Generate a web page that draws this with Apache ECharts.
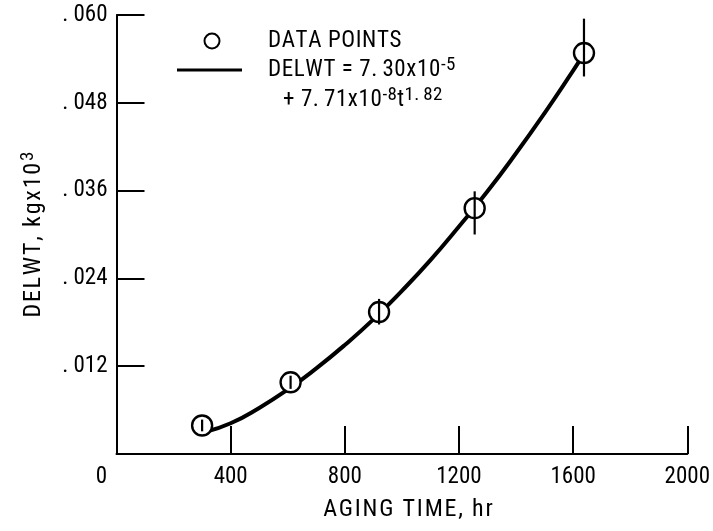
<!DOCTYPE html>
<html>
<head>
<meta charset="utf-8">
<script src="https://cdn.jsdelivr.net/npm/echarts@6/dist/echarts.min.js"></script>
<style>
  html, body { margin: 0; padding: 0; background: #fff; }
  #chart { width: 713px; height: 531px; }
</style>
</head>
<body>
<div id="chart"></div>
<script>
// Aging time (hr) of each measurement and the mean weight change
const agingTime = [300, 610, 920, 1255, 1638];
const delwt = [0.0039, 0.0098, 0.0194, 0.0336, 0.0548];
// Scatter band of each measurement (low, high)
const delwtLow = [0.0031, 0.0089, 0.0177, 0.0300, 0.0516];
const delwtHigh = [0.0047, 0.0107, 0.0212, 0.0359, 0.0595];

// Fitted curve DELWT = 7.30x10^-5 + 7.71x10^-8 t^1.82, read along its length
const fitTime = [310, 400, 500, 600, 700, 800, 900, 1000, 1100, 1200, 1300, 1400, 1500, 1600, 1630];
const fitDelwt = [0.0030, 0.0042, 0.0063, 0.0088, 0.0117, 0.0149, 0.0184, 0.0223, 0.0265, 0.0311, 0.0359, 0.0411, 0.0466, 0.0524, 0.0542];

// Axis tick labels
const xTickLabels = ['0', '400', '800', '1200', '1600', '2000'];
const yTickLabels = ['', '.012', '.024', '.036', '.048', '.060'];

const FONT = '"Roboto Condensed", "DejaVu Sans Condensed", sans-serif';
const FS = 23;

// Typewriter-style lettering: every character is its own rich fragment so
// the spacing between letters (and the wider gap after a period) can be set.
function spaced(str, cls) {
  return str.split('').map(function (c) {
    return '{' + (c === '.' ? cls + 'd' : cls) + '|' + c + '}';
  }).join('');
}
function letterStyles(cls, size, gap, dotGap, raise) {
  const out = {};
  const base = { fontSize: size, fontFamily: FONT, color: '#000' };
  if (raise) base.verticalAlign = 'top';
  out[cls] = Object.assign({}, base, { padding: [0, gap, raise || 0, 0] });
  out[cls + 'd'] = Object.assign({}, base, { padding: [0, dotGap, raise || 0, 0] });
  return out;
}
const RICH = Object.assign({},
  letterStyles('a', FS, 0.6, 5),        // running text
  letterStyles('s', 19, 0.3, 4, 11),    // superscripts
  letterStyles('t', 24, 1.8, 5)         // axis titles
);

const chart = echarts.init(document.getElementById('chart'), null, { renderer: 'canvas' });

const points = agingTime.map((t, i) => [t, delwt[i]]);
const bars = agingTime.map((t, i) => [t, delwtLow[i], delwtHigh[i]]);
const curve = fitTime.map((t, i) => [t, fitDelwt[i]]);

function keyText(x, y, text) {
  return {
    type: 'text', x: x, y: y, z: 10,
    style: {
      text: text,
      font: FS + 'px ' + FONT,
      fill: '#000',
      align: 'left',
      verticalAlign: 'middle',
      rich: RICH
    }
  };
}

chart.setOption({
  backgroundColor: '#fff',
  animation: false,
  grid: { left: 116.5, right: 22.5, top: 15, bottom: 77 },
  // Key: open circle for measurements, solid stroke for the fitted curve
  graphic: [
    {
      type: 'circle', z: 10,
      shape: { cx: 212, cy: 41, r: 7.5 },
      style: { fill: '#fff', stroke: '#000', lineWidth: 2 }
    },
    {
      type: 'line', z: 10,
      shape: { x1: 177, y1: 70, x2: 242, y2: 70 },
      style: { stroke: '#000', lineWidth: 3 }
    },
    keyText(268, 41, spaced('DATA POINTS', 'a')),
    keyText(268, 70.5, spaced('DELWT = 7.30x10', 'a') + spaced('-5', 's')),
    keyText(283, 100.5, spaced('+ 7.71x10', 'a') + spaced('-8', 's') + spaced('t', 'a') + spaced('1.82', 's'))
  ],
  xAxis: {
    type: 'value',
    min: 0, max: 2000, interval: 400,
    name: spaced('AGING TIME, hr', 't'),
    nameLocation: 'middle',
    nameGap: 44,
    nameTextStyle: { fontFamily: FONT, fontSize: 24, color: '#000', padding: [0, 0, 0, 14], rich: RICH },
    splitLine: { show: false },
    axisLine: { show: true, lineStyle: { color: '#000', width: 2 } },
    axisTick: { show: true, inside: true, length: 28, lineStyle: { color: '#000', width: 2 } },
    axisLabel: {
      margin: 12,
      fontFamily: FONT, fontSize: FS, color: '#000',
      formatter: function (v, i) {
        return i === 0 ? '{z|' + xTickLabels[0] + '}' : xTickLabels[i];
      },
      rich: { z: { fontFamily: FONT, fontSize: FS, color: '#000', padding: [0, 30, 0, 0] } }
    }
  },
  yAxis: {
    type: 'value',
    min: 0, max: 0.06, interval: 0.012,
    name: spaced('DELWT, kgx10', 't') + spaced('3', 's'),
    nameLocation: 'middle',
    nameGap: 68,
    nameRotate: 90,
    nameTextStyle: { fontFamily: FONT, fontSize: 24, color: '#000', rich: RICH },
    splitLine: { show: false },
    axisLine: { show: true, lineStyle: { color: '#000', width: 2 } },
    axisTick: { show: true, inside: true, length: 28, lineStyle: { color: '#000', width: 2 } },
    axisLabel: {
      margin: 9,
      fontFamily: FONT, fontSize: FS, color: '#000',
      formatter: function (v, i) {
        const s = yTickLabels[i];
        return s ? '{p|.}' + s.slice(1) : '';
      },
      rich: { p: { fontFamily: FONT, fontSize: FS, color: '#000', padding: [0, 5, 0, 0] } }
    }
  },
  series: [
    {
      name: 'DELWT',
      type: 'line',
      data: curve,
      smooth: true,
      symbol: 'none',
      z: 2,
      lineStyle: { color: '#000', width: 4 }
    },
    {
      name: 'DATA POINTS',
      type: 'scatter',
      data: points,
      symbol: 'circle',
      symbolSize: 20,
      z: 3,
      itemStyle: { color: '#fff', borderColor: '#000', borderWidth: 2.4, opacity: 1 }
    },
    {
      name: 'range',
      type: 'custom',
      data: bars,
      z: 4,
      renderItem: function (params, api) {
        const lo = api.coord([api.value(0), api.value(1)]);
        const hi = api.coord([api.value(0), api.value(2)]);
        return {
          type: 'line',
          shape: { x1: lo[0], y1: lo[1], x2: hi[0], y2: hi[1] },
          style: { stroke: '#000', lineWidth: 2.2 }
        };
      }
    }
  ]
});
</script>
</body>
</html>
